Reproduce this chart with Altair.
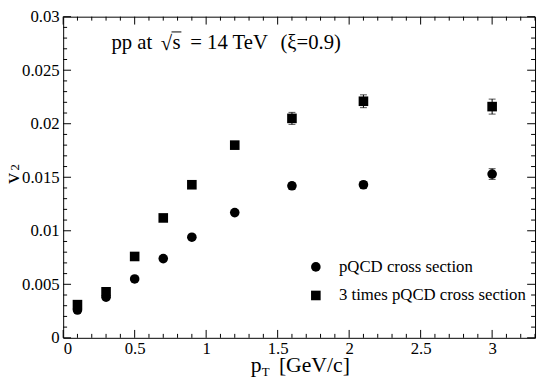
import altair as alt
import pandas as pd
import numpy as np

# ---- data ----
pt = [0.1, 0.3, 0.5, 0.7, 0.9, 1.2, 1.6, 2.1, 3.0]
v2_pqcd = [0.0026, 0.0038, 0.0055, 0.0074, 0.0094, 0.0117, 0.0142, 0.0143, 0.0153]
err_pqcd = [0.0001, 0.0001, 0.0001, 0.0002, 0.0002, 0.0002, 0.0003, 0.0003, 0.0005]
v2_3x = [0.0031, 0.0043, 0.0076, 0.0112, 0.0143, 0.0180, 0.0205, 0.0221, 0.0216]
err_3x = [0.0001, 0.0001, 0.0001, 0.0002, 0.0003, 0.0003, 0.00056, 0.0006, 0.0007]

series_names = ["pQCD cross section", "3 times pQCD cross section"]
x_major = [0, 0.5, 1, 1.5, 2, 2.5, 3]
y_major = [0, 0.005, 0.01, 0.015, 0.02, 0.025, 0.03]

FONT = "Liberation Serif"
W, H = 479, 326

rows = []
for name, vals, errs in [(series_names[0], v2_pqcd, err_pqcd), (series_names[1], v2_3x, err_3x)]:
    for x, y, e in zip(pt, vals, errs):
        rows.append({"pt": x, "v2": y, "lo": y - e, "hi": y + e, "series": name})
df = pd.DataFrame(rows)

xs = alt.Scale(domain=[0, 3.3], nice=False, zero=False)
ys = alt.Scale(domain=[0, 0.03], nice=False, zero=False)

x_minor = [round(v, 1) for v in np.arange(0, 3.31, 0.1) if round(v * 10) % 5 != 0]
y_minor = [round(v, 3) for v in np.arange(0, 0.0301, 0.001) if round(v * 1000) % 5 != 0]

xt_major = pd.DataFrame({"v": x_major})
xt_minor = pd.DataFrame({"v": x_minor})
yt_major = pd.DataFrame({"v": y_major})
yt_minor = pd.DataFrame({"v": y_minor})

base = alt.Chart(df)

points = base.mark_point(filled=True, opacity=1, color="black", size=95).encode(
    x=alt.X("pt:Q", scale=xs,
            axis=alt.Axis(values=x_major, labelExpr="format(datum.value, '~g')", ticks=False,
                          domain=False, grid=False, labelFont=FONT, labelFontSize=17,
                          labelColor="black", labelPadding=3, title=None)),
    y=alt.Y("v2:Q", scale=ys,
            axis=alt.Axis(values=y_major, labelExpr="format(datum.value, '~g')", ticks=False,
                          domain=False, grid=False, labelFont=FONT, labelFontSize=17,
                          labelColor="black", labelPadding=4, title=None)),
    shape=alt.Shape("series:N",
                    scale=alt.Scale(domain=series_names, range=["circle", "square"]),
                    legend=alt.Legend(title=None, orient="none", legendX=248, legendY=245.5,
                                      labelFont=FONT, labelFontSize=17, labelColor="black",
                                      labelLimit=400,
                                      symbolSize=95, symbolFillColor="black",
                                      symbolStrokeColor="black", labelOffset=15,
                                      rowPadding=11)),
)

bars = base.mark_rule(color="black", strokeWidth=1).encode(
    x=alt.X("pt:Q", scale=xs), y=alt.Y("lo:Q", scale=ys), y2="hi:Q")
cap_lo = base.mark_tick(color="black", thickness=1, size=7, orient="horizontal").encode(
    x=alt.X("pt:Q", scale=xs), y=alt.Y("lo:Q", scale=ys))
cap_hi = base.mark_tick(color="black", thickness=1, size=7, orient="horizontal").encode(
    x=alt.X("pt:Q", scale=xs), y=alt.Y("hi:Q", scale=ys))

def xticks(d, L):
    bot = alt.Chart(d).mark_rule(color="black", strokeWidth=1).encode(
        x=alt.X("v:Q", scale=xs), y=alt.value(H), y2=alt.value(H - L))
    top = alt.Chart(d).mark_rule(color="black", strokeWidth=1).encode(
        x=alt.X("v:Q", scale=xs), y=alt.value(0), y2=alt.value(L))
    return bot + top

def yticks(d, L):
    left = alt.Chart(d).mark_rule(color="black", strokeWidth=1).encode(
        y=alt.Y("v:Q", scale=ys), x=alt.value(0), x2=alt.value(L))
    right = alt.Chart(d).mark_rule(color="black", strokeWidth=1).encode(
        y=alt.Y("v:Q", scale=ys), x=alt.value(W), x2=alt.value(W - L))
    return left + right

ticks = xticks(xt_major, 8) + xticks(xt_minor, 4) + yticks(yt_major, 8) + yticks(yt_minor, 4)

def txt(text, x, y, size, align="left", angle=0, font=FONT):
    return alt.Chart(pd.DataFrame({"t": [text]})).mark_text(
        font=font, fontSize=size, color="black", align=align, baseline="alphabetic", angle=angle
    ).encode(text="t:N", x=alt.value(x), y=alt.value(y))

# annotation "pp at sqrt(s) = 14 TeV  (xi=0.9)"
a1 = txt("pp at", 49, 33, 21)
a2 = txt("\u221a", 99, 34, 21)
a3 = txt("s", 111, 33, 21)
a4 = txt("= 14 TeV", 129, 33, 21)
a5 = txt("(\u03be=0.9)", 282, 33, 21, align="right")
overline = alt.Chart(pd.DataFrame({"t": [0]})).mark_rule(color="black", strokeWidth=1).encode(
    x=alt.value(110), x2=alt.value(120), y=alt.value(15.5))

xt1 = txt("p", 190.5, 361, 22)
xt2 = txt("T", 201.5, 365, 13)
xt3 = txt("[GeV/c]", 219, 361, 22)
yt1 = txt("v", -45, 164, 22, align="center", angle=270)
yt2 = txt("2", -45, 153, 13, align="center", angle=270)

chart = alt.layer(ticks, bars, cap_lo, cap_hi, points, a1, a2, a3, a4, a5, overline,
                  xt1, xt2, xt3, yt1, yt2).properties(
    width=W, height=H,
    autosize=alt.AutoSizeParams(type="none"),
    padding={"left": 56, "top": 6, "right": 2, "bottom": 40},
).configure_view(stroke="black", strokeWidth=1)

chart.save("out.html", embed_options={"renderer": "svg", "actions": False})
